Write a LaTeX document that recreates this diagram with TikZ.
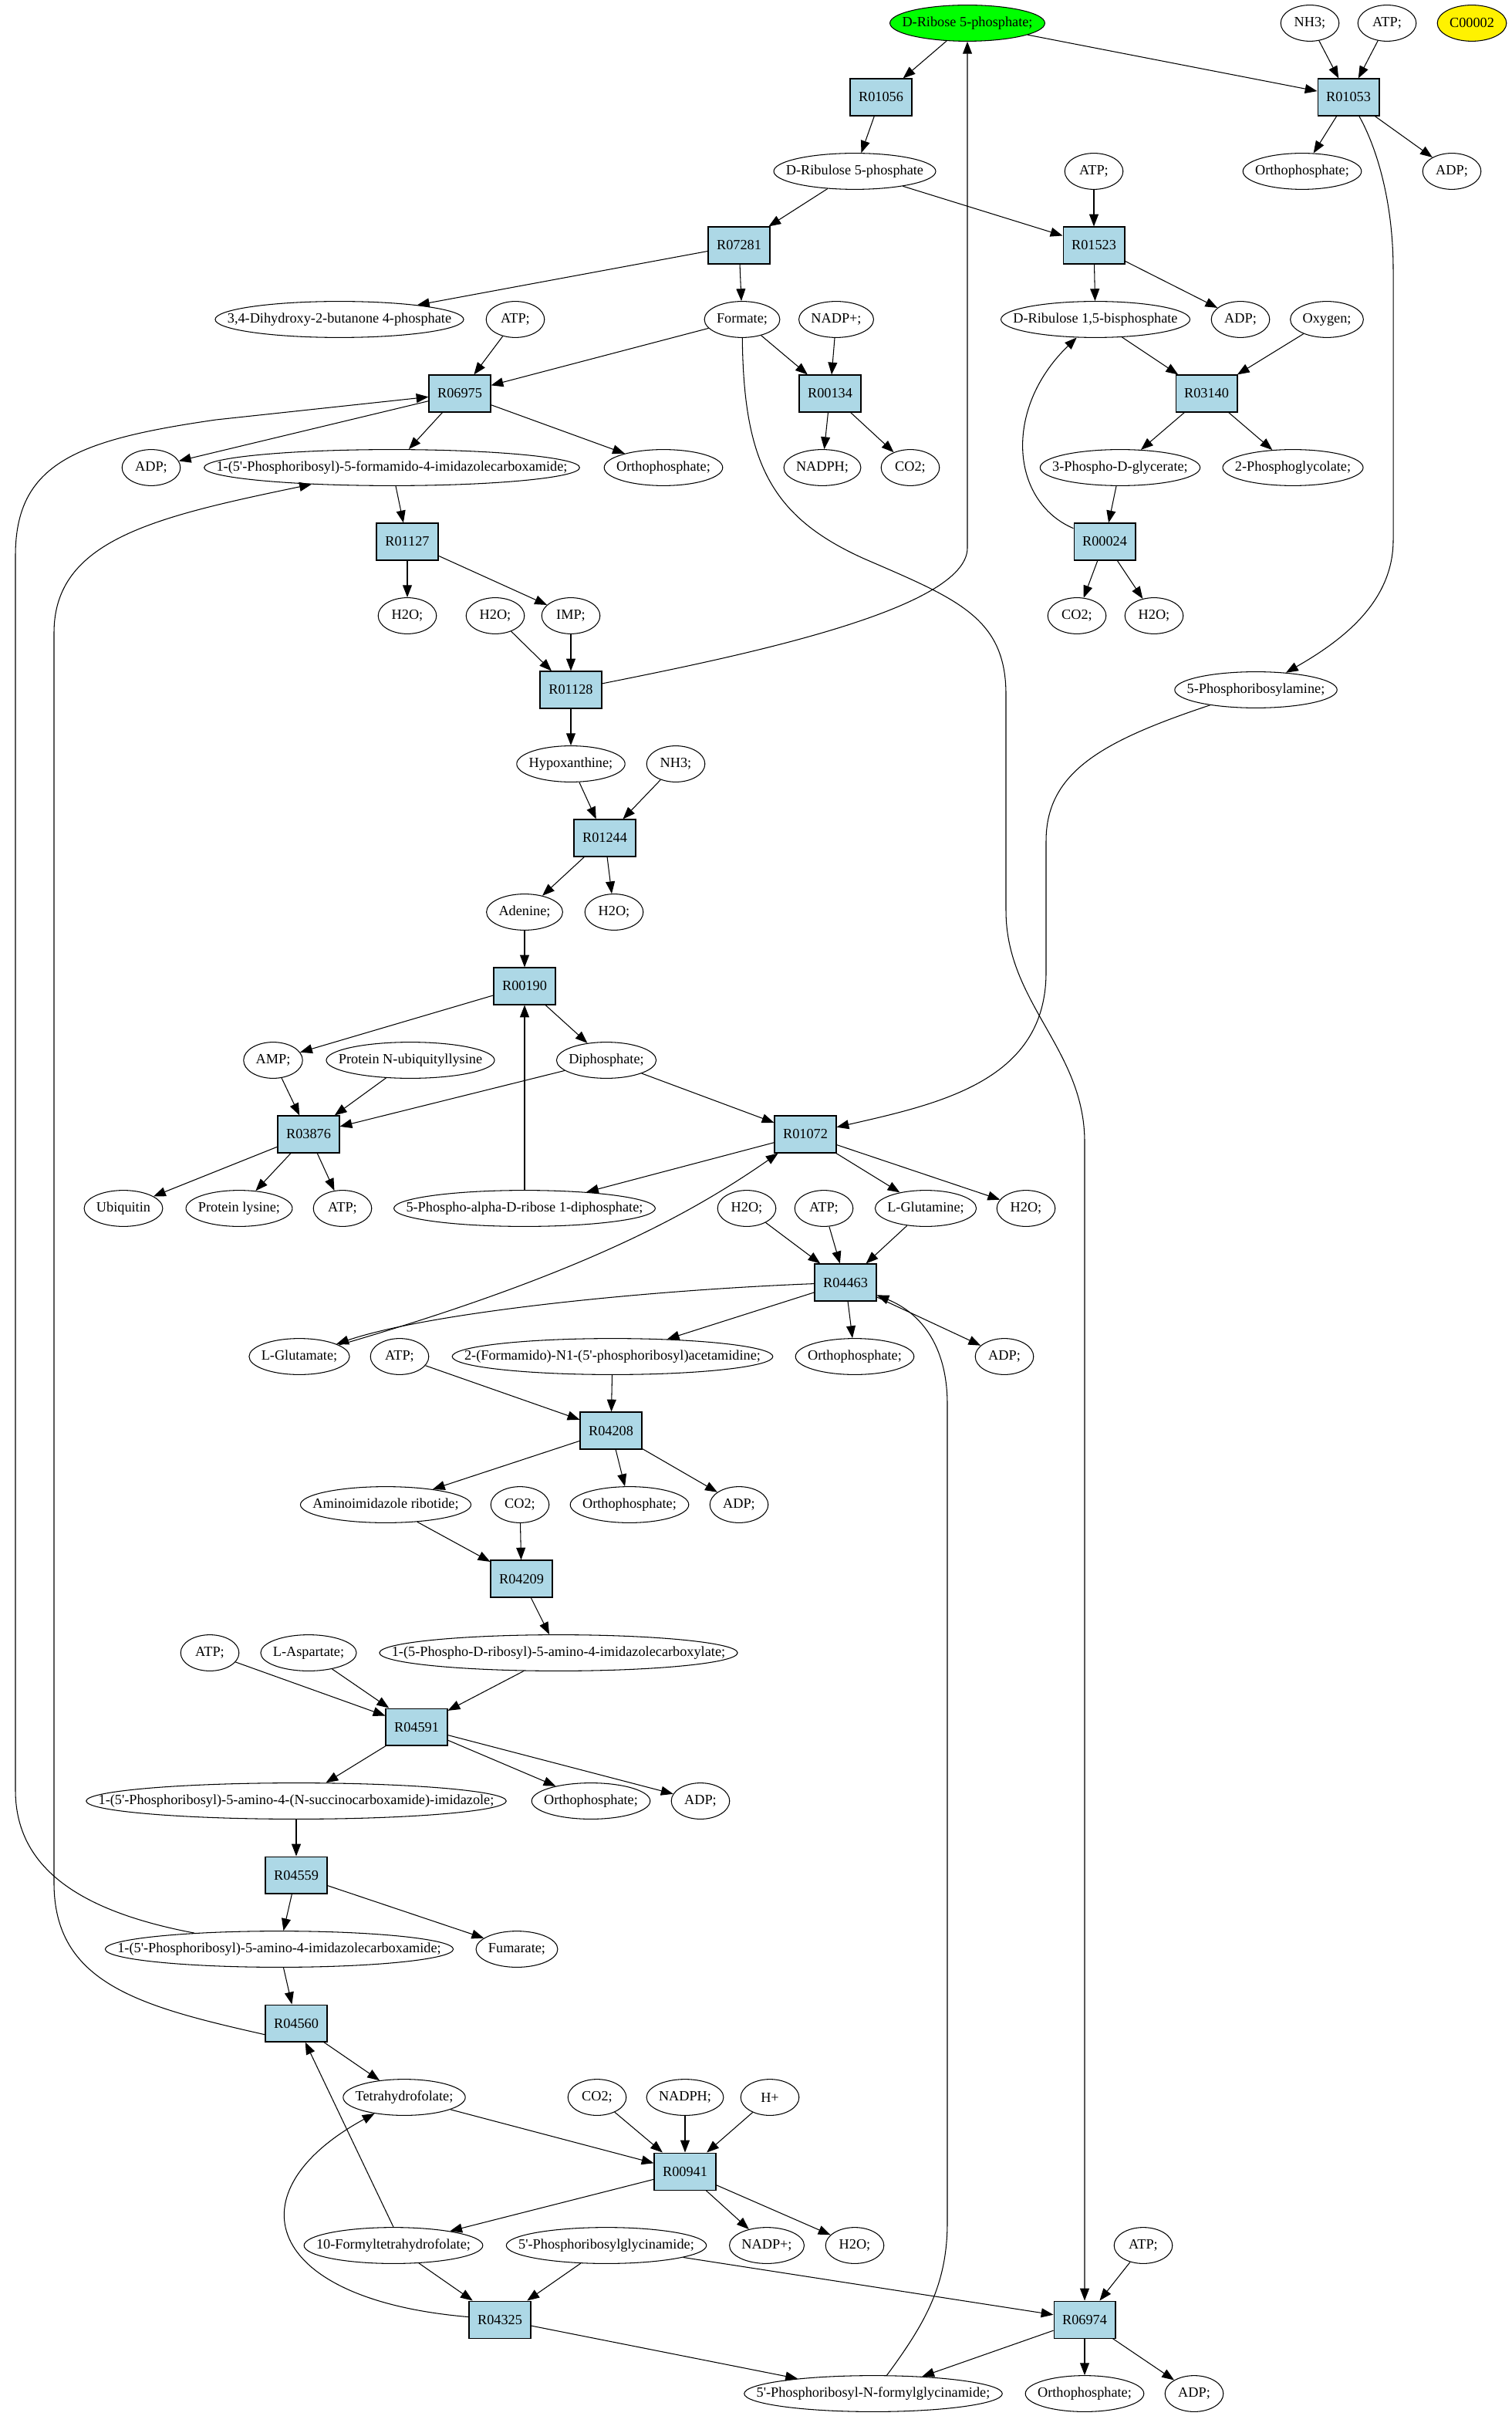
\documentclass[tikz,border=0pt]{standalone}
\usepackage{fontspec}
\setmainfont{Liberation Serif}
\usepackage{tikz}
\usetikzlibrary{shapes.geometric}
\usetikzlibrary{arrows.meta}
\definecolor{lightblue}{HTML}{ADD8E6}
\tikzset{my_pathway/.style={->,>={Triangle[length=4.5pt,width=3.4pt]},line width=0.3pt,x=0.02cm,y=-0.02cm,font=\fontsize{5.2}{6}\selectfont}}
\tikzset{my_reaction/.style={rectangle, draw, fill=lightblue, minimum width=0.8cm, minimum height=0.48cm, inner sep=0pt}}
\tikzset{my_compound/.style={ellipse, draw, minimum width=0.756cm, minimum height=0.468cm, inner sep=0pt}}
\tikzset{my_start_compound/.style={my_compound, fill=green}}
\tikzset{my_extra_compound/.style={my_compound, fill=yellow}}
\newsavebox{\cpdbox}
\newcommand{\cpd}[1]{\sbox{\cpdbox}{#1}\makebox[\dimexpr0.7071\wd\cpdbox+6.4pt\relax]{\usebox{\cpdbox}}}
\newcommand{\pr}{\textquotesingle}

\begin{document}
\begin{tikzpicture}[my_pathway]
    %\draw[help lines] (0,0) grid (979,1565);
    \useasboundingbox (0,0) rectangle (979.5,1565.5);

    % reactions
    \node[my_reaction] (R01056) at (571,63) {R01056};
    \node[my_reaction] (R01053) at (874,63) {R01053};
    \node[my_reaction] (R07281) at (479,159) {R07281};
    \node[my_reaction] (R01523) at (709,159) {R01523};
    \node[my_reaction] (R06975) at (298,255) {R06975};
    \node[my_reaction] (R00134) at (538,255) {R00134};
    \node[my_reaction] (R03140) at (782,255) {R03140};
    \node[my_reaction] (R01127) at (264,351) {R01127};
    \node[my_reaction] (R00024) at (716,351) {R00024};
    \node[my_reaction] (R01128) at (370,447) {R01128};
    \node[my_reaction] (R01244) at (392,543) {R01244};
    \node[my_reaction] (R00190) at (340,639) {R00190};
    \node[my_reaction] (R03876) at (200,735) {R03876};
    \node[my_reaction] (R01072) at (522,735) {R01072};
    \node[my_reaction] (R04463) at (548,831) {R04463};
    \node[my_reaction] (R04208) at (396,927) {R04208};
    \node[my_reaction] (R04209) at (338,1023) {R04209};
    \node[my_reaction] (R04591) at (270,1119) {R04591};
    \node[my_reaction] (R04559) at (192,1215) {R04559};
    \node[my_reaction] (R04560) at (192,1311) {R04560};
    \node[my_reaction] (R00941) at (444,1407) {R00941};
    \node[my_reaction] (R04325) at (324,1503) {R04325};
    \node[my_reaction] (R06974) at (703,1503) {R06974};

    % compounds
    \node[my_start_compound] (r5p) at (627,15) {\cpd{D-Ribose 5-phosphate;}};
    \node[my_compound] (nh3a) at (849,15) {\cpd{NH3;}};
    \node[my_compound] (atpa) at (899,15) {\cpd{ATP;}};
    \node[my_extra_compound] (c00002) at (954,15) {\cpd{C00002}};
    \node[my_compound] (ru5p) at (554,111) {\cpd{D-Ribulose 5-phosphate}};
    \node[my_compound] (atpb) at (709,111) {\cpd{ATP;}};
    \node[my_compound] (pia) at (844,111) {\cpd{Orthophosphate;}};
    \node[my_compound] (adpa) at (941,111) {\cpd{ADP;}};
    \node[my_compound] (dhbp) at (220,207) {\cpd{3,4-Dihydroxy-2-butanone 4-phosphate}};
    \node[my_compound] (atpc) at (334,207) {\cpd{ATP;}};
    \node[my_compound] (formate) at (481,207) {\cpd{Formate;}};
    \node[my_compound] (nadpa) at (542,207) {\cpd{NADP+;}};
    \node[my_compound] (rubp) at (710,207) {\cpd{D-Ribulose 1,5-bisphosphate}};
    \node[my_compound] (adpb) at (804,207) {\cpd{ADP;}};
    \node[my_compound] (oxygen) at (860,207) {\cpd{Oxygen;}};
    \node[my_compound] (adpc) at (98,303) {\cpd{ADP;}};
    \node[my_compound] (fprica) at (254,303) {\cpd{1-(5\pr-Phosphoribosyl)-5-formamido-4-imidazolecarboxamide;}};
    \node[my_compound] (pib) at (430,303) {\cpd{Orthophosphate;}};
    \node[my_compound] (nadpha) at (533,303) {\cpd{NADPH;}};
    \node[my_compound] (co2a) at (590,303) {\cpd{CO2;}};
    \node[my_compound] (pga) at (726,303) {\cpd{3-Phospho-D-glycerate;}};
    \node[my_compound] (pglyc) at (838,303) {\cpd{2-Phosphoglycolate;}};
    \node[my_compound] (h2oa) at (264,399) {\cpd{H2O;}};
    \node[my_compound] (h2ob) at (321,399) {\cpd{H2O;}};
    \node[my_compound] (imp) at (370,399) {\cpd{IMP;}};
    \node[my_compound] (co2b) at (698,399) {\cpd{CO2;}};
    \node[my_compound] (h2oc) at (748,399) {\cpd{H2O;}};
    \node[my_compound] (pra) at (814,447) {\cpd{5-Phosphoribosylamine;}};
    \node[my_compound] (hypox) at (370,495) {\cpd{Hypoxanthine;}};
    \node[my_compound] (nh3b) at (438,495) {\cpd{NH3;}};
    \node[my_compound] (adenine) at (340,591) {\cpd{Adenine;}};
    \node[my_compound] (h2od) at (398,591) {\cpd{H2O;}};
    \node[my_compound] (amp) at (177,687) {\cpd{AMP;}};
    \node[my_compound] (protub) at (266,687) {\cpd{Protein N-ubiquityllysine}};
    \node[my_compound] (ppi) at (393,687) {\cpd{Diphosphate;}};
    \node[my_compound] (ubiq) at (80,783) {\cpd{Ubiquitin}};
    \node[my_compound] (protlys) at (155,783) {\cpd{Protein lysine;}};
    \node[my_compound] (atpd) at (222,783) {\cpd{ATP;}};
    \node[my_compound] (prpp) at (340,783) {\cpd{5-Phospho-alpha-D-ribose 1-diphosphate;}};
    \node[my_compound] (h2oe) at (484,783) {\cpd{H2O;}};
    \node[my_compound] (atpe) at (534,783) {\cpd{ATP;}};
    \node[my_compound] (gln) at (600,783) {\cpd{L-Glutamine;}};
    \node[my_compound] (h2of) at (665,783) {\cpd{H2O;}};
    \node[my_compound] (glu) at (194,879) {\cpd{L-Glutamate;}};
    \node[my_compound] (atpf) at (259,879) {\cpd{ATP;}};
    \node[my_compound] (fgam) at (397,879) {\cpd{2-(Formamido)-N1-(5\pr-phosphoribosyl)acetamidine;}};
    \node[my_compound] (pic) at (554,879) {\cpd{Orthophosphate;}};
    \node[my_compound] (adpd) at (651,879) {\cpd{ADP;}};
    \node[my_compound] (air) at (250,975) {\cpd{Aminoimidazole ribotide;}};
    \node[my_compound] (co2c) at (337,975) {\cpd{CO2;}};
    \node[my_compound] (pid) at (408,975) {\cpd{Orthophosphate;}};
    \node[my_compound] (adpe) at (479,975) {\cpd{ADP;}};
    \node[my_compound] (atpg) at (136,1071) {\cpd{ATP;}};
    \node[my_compound] (asp) at (200,1071) {\cpd{L-Aspartate;}};
    \node[my_compound] (cair) at (362,1071) {\cpd{1-(5-Phospho-D-ribosyl)-5-amino-4-imidazolecarboxylate;}};
    \node[my_compound] (saicar) at (192,1167) {\cpd{1-(5\pr-Phosphoribosyl)-5-amino-4-(N-succinocarboxamide)-imidazole;}};
    \node[my_compound] (pie) at (383,1167) {\cpd{Orthophosphate;}};
    \node[my_compound] (adpf) at (454,1167) {\cpd{ADP;}};
    \node[my_compound] (aicar) at (181,1263) {\cpd{1-(5\pr-Phosphoribosyl)-5-amino-4-imidazolecarboxamide;}};
    \node[my_compound] (fumarate) at (335,1263) {\cpd{Fumarate;}};
    \node[my_compound] (thf) at (262,1359) {\cpd{Tetrahydrofolate;}};
    \node[my_compound] (co2d) at (387,1359) {\cpd{CO2;}};
    \node[my_compound] (nadphb) at (444,1359) {\cpd{NADPH;}};
    \node[my_compound] (hplus) at (499,1359) {\cpd{H+}};
    \node[my_compound] (fthf) at (255,1455) {\cpd{10-Formyltetrahydrofolate;}};
    \node[my_compound] (gar) at (393,1455) {\cpd{5\pr-Phosphoribosylglycinamide;}};
    \node[my_compound] (nadpb) at (497,1455) {\cpd{NADP+;}};
    \node[my_compound] (h2og) at (554,1455) {\cpd{H2O;}};
    \node[my_compound] (atph) at (741,1455) {\cpd{ATP;}};
    \node[my_compound] (fgar) at (566,1551) {\cpd{5\pr-Phosphoribosyl-N-formylglycinamide;}};
    \node[my_compound] (pif) at (703,1551) {\cpd{Orthophosphate;}};
    \node[my_compound] (adpg) at (774,1551) {\cpd{ADP;}};

    \path
        (r5p) edge (R01056)
        (r5p) edge (R01053)
        (nh3a) edge (R01053)
        (atpa) edge (R01053)
        (R01056) edge (ru5p)
        (R01053) edge (pia)
        (R01053) edge (adpa)
        (ru5p) edge (R07281)
        (ru5p) edge (R01523)
        (atpb) edge (R01523)
        (R07281) edge (dhbp)
        (R07281) edge (formate)
        (R01523) edge (rubp)
        (R01523) edge (adpb)
        (formate) edge (R06975)
        (formate) edge (R00134)
        (nadpa) edge (R00134)
        (atpc) edge (R06975)
        (rubp) edge (R03140)
        (oxygen) edge (R03140)
        (R06975) edge (adpc)
        (R06975) edge (fprica)
        (R06975) edge (pib)
        (R00134) edge (nadpha)
        (R00134) edge (co2a)
        (R03140) edge (pga)
        (R03140) edge (pglyc)
        (fprica) edge (R01127)
        (pga) edge (R00024)
        (R00024) edge (co2b)
        (R00024) edge (h2oc)
        (R01127) edge (h2oa)
        (R01127) edge (imp)
        (h2ob) edge (R01128)
        (imp) edge (R01128)
        (R01128) edge (hypox)
        (hypox) edge (R01244)
        (nh3b) edge (R01244)
        (R01244) edge (adenine)
        (R01244) edge (h2od)
        (adenine) edge (R00190)
        (R00190) edge (amp)
        (R00190) edge (ppi)
        (prpp) edge (R00190)
        (amp) edge (R03876)
        (protub) edge (R03876)
        (ppi) edge (R03876)
        (ppi) edge (R01072)
        (R03876) edge (ubiq)
        (R03876) edge (protlys)
        (R03876) edge (atpd)
        (R01072) edge (prpp)
        (R01072) edge (gln)
        (R01072) edge (h2of)
        (h2oe) edge (R04463)
        (atpe) edge (R04463)
        (gln) edge (R04463)
        (R04463) edge (fgam)
        (R04463) edge (pic)
        (R04463) edge (adpd)
        (fgam) edge (R04208)
        (atpf) edge (R04208)
        (R04208) edge (air)
        (R04208) edge (pid)
        (R04208) edge (adpe)
        (air) edge (R04209)
        (co2c) edge (R04209)
        (R04209) edge (cair)
        (cair) edge (R04591)
        (atpg) edge (R04591)
        (asp) edge (R04591)
        (R04591) edge (saicar)
        (R04591) edge (pie)
        (R04591) edge (adpf)
        (saicar) edge (R04559)
        (R04559) edge (aicar)
        (R04559) edge (fumarate)
        (aicar) edge (R04560)
        (R04560) edge (thf)
        (fthf.north) edge (R04560)
        (thf) edge (R00941)
        (co2d) edge (R00941)
        (nadphb) edge (R00941)
        (hplus) edge (R00941)
        (R00941) edge (fthf)
        (R00941) edge (nadpb)
        (R00941) edge (h2og)
        (fthf) edge (R04325)
        (gar) edge (R04325)
        (R04325) edge (fgar)
        (gar) edge (R06974)
        (atph) edge (R06974)
        (R06974) edge (fgar)
        (R06974) edge (pif)
        (R06974) edge (adpg)
    ;

    % long curved connectors
    \draw (R01053) .. controls (892,95) and (903,130) .. (903,175) -- (903,350) .. controls (903,390) and (870,415) .. (pra);
    \draw (R01128) .. controls (480,425) and (627,395) .. (627,355) -- (r5p);
    \draw (formate) .. controls (482,300) and (500,335) .. (560,362) .. controls (620,388) and (652,400) .. (652,450) -- (652,590) .. controls (652,650) and (703,680) .. (703,740) -- (R06974);
    \draw (pra) .. controls (715,480) and (678,500) .. (678,545) -- (678,630) .. controls (678,700) and (610,715) .. (R01072);
    \draw (aicar) .. controls (60,1240) and (10,1215) .. (10,1160) -- (10,360) .. controls (10,300) and (50,285) .. (140,272) -- (R06975);
    \draw (R04560.200) .. controls (90,1300) and (35,1285) .. (35,1220) -- (35,410) .. controls (35,350) and (100,335) .. (fprica);
    \draw (R00024) .. controls (655,325) and (650,265) .. (rubp);
    \draw (fgar) .. controls (600,1505) and (614,1480) .. (614,1440) -- (614,910) .. controls (614,870) and (595,850) .. (R04463);
    \draw (R04325) .. controls (170,1490) and (150,1420) .. (thf);
    \draw (glu) .. controls (380,825) and (450,785) .. (R01072);
    \draw (R04463) .. controls (420,836) and (280,850) .. (glu);
\end{tikzpicture}
\end{document}
